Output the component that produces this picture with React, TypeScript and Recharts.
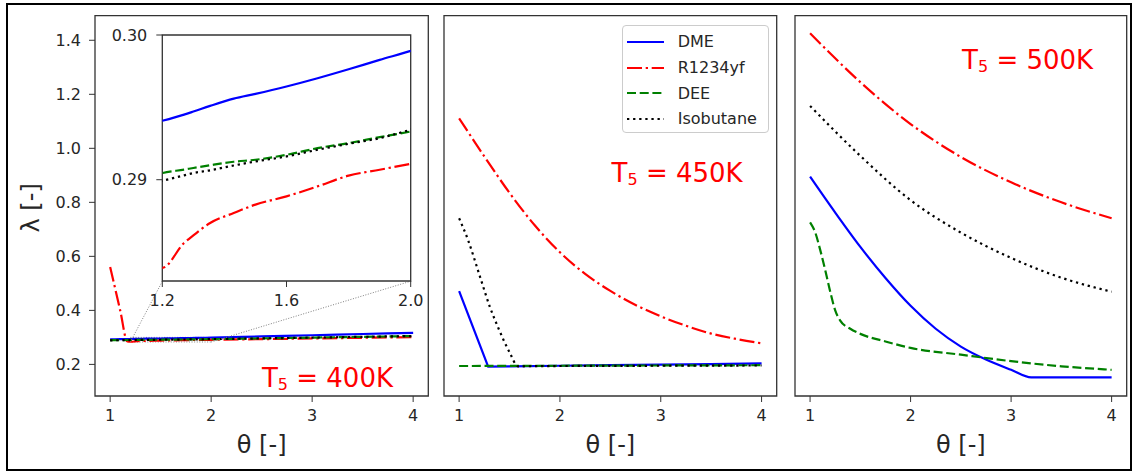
import React from 'react';
import { LineChart, Line, XAxis, YAxis, ReferenceArea, ReferenceLine, ReferenceDot, Legend } from 'recharts';

const W = 1135;
const H = 472;
const FONT = '"DejaVu Sans", Verdana, sans-serif';
const INK = '#262626';

const SERIES = ['DME', 'R1234yf', 'DEE', 'Isobutane'];
const COLORS = ['#0000ff', '#ff0000', '#008000', '#000000'];
const DASHES = ['', '15 3.7 2.3 3.7', '9 3.7', '2.3 3.8'];

const xTicks = [1, 2, 3, 4];
const yTicks = [0.2, 0.4, 0.6, 0.8, 1.0, 1.2, 1.4];
const insetXTicks = [1.2, 1.6, 2.0];
const insetYTicks = [0.29, 0.3];
const xDomain = [0.85, 4.15];
const yDomain = [0.083, 1.491];
const insetXDomain = [1.2, 2.0];
const insetYDomain = [0.283, 0.3];
const tempLabels = ['400K', '450K', '500K'];

// ---- T5 = 400K ----
const theta400 = [1.0, 1.1, 1.17, 1.2, 1.27, 1.3, 1.354, 1.43, 1.5, 1.6, 1.7, 1.8, 1.9, 2.0, 2.5, 3.0, 3.5, 4.0];
const dme400 = [0.2928, 0.2934, 0.2939, 0.29407, 0.2945, 0.29471, 0.2951, 0.2956, 0.29593, 0.29644, 0.29701, 0.29763, 0.29828, 0.2989, 0.3035, 0.308, 0.3125, 0.317];
const r1234yf400 = [0.561, 0.399, 0.285, 0.28391, 0.28563, 0.28615, 0.28701, 0.2877, 0.28828, 0.28885, 0.28954, 0.29028, 0.29069, 0.2911, 0.2935, 0.296, 0.2985, 0.301];
const dee400 = [0.2897, 0.2901, 0.2903, 0.29046, 0.2907, 0.29081, 0.291, 0.29124, 0.29138, 0.29172, 0.29218, 0.29253, 0.29294, 0.29333, 0.2963, 0.2992, 0.302, 0.305];
const iso400 = [0.2891, 0.2895, 0.2898, 0.28993, 0.2903, 0.29046, 0.29065, 0.29098, 0.29126, 0.29161, 0.29207, 0.29248, 0.29287, 0.29345, 0.2962, 0.2991, 0.3021, 0.3051];

// ---- T5 = 450K ----
const thetaDme450 = [1.0, 1.288, 1.5, 2.0, 2.5, 3.0, 3.5, 4.0];
const dme450 = [0.471, 0.192, 0.193, 0.195, 0.197, 0.199, 0.201, 0.204];
const thetaR450 = [1.0, 1.25, 1.5, 1.75, 2.0, 2.25, 2.5, 2.75, 3.0, 3.25, 3.5, 3.75, 4.0];
const r1234yf450 = [1.111, 0.97, 0.835, 0.715, 0.615, 0.535, 0.472, 0.42, 0.378, 0.343, 0.314, 0.294, 0.278];
const thetaDee450 = [1.0, 2.0, 3.0, 4.0];
const dee450 = [0.194, 0.195, 0.196, 0.197];
const thetaIso450 = [1.0, 1.089, 1.2, 1.305, 1.4, 1.5, 1.585, 2.0, 3.0, 4.0];
const iso450 = [0.741, 0.66, 0.533, 0.413, 0.325, 0.245, 0.193, 0.194, 0.195, 0.196];

// ---- T5 = 500K ----
const thetaDme500 = [1.0, 1.25, 1.5, 1.75, 2.0, 2.25, 2.5, 2.75, 3.0, 3.2, 4.0];
const dme500 = [0.895, 0.762, 0.635, 0.52, 0.417, 0.332, 0.266, 0.218, 0.18, 0.152, 0.152];
const thetaR500 = [1.0, 1.5, 2.0, 2.5, 3.0, 3.5, 4.0];
const r1234yf500 = [1.426, 1.245, 1.09, 0.968, 0.874, 0.8, 0.741];
const thetaDee500 = [1.0, 1.05, 1.1, 1.15, 1.2, 1.25, 1.3, 1.4, 1.5, 1.75, 2.0, 2.5, 3.0, 3.5, 4.0];
const dee500 = [0.726, 0.69, 0.625, 0.55, 0.47, 0.4, 0.362, 0.332, 0.313, 0.285, 0.261, 0.236, 0.212, 0.193, 0.18];
const thetaIso500 = [1.0, 1.5, 2.0, 2.5, 3.0, 3.5, 4.0];
const iso500 = [1.157, 0.972, 0.808, 0.688, 0.594, 0.521, 0.469];

const pts = (t: number[], v: number[]) => t.map((x, i) => ({ x, y: v[i] }));

const panels = [
  {
    lines: [pts(theta400, dme400), pts(theta400, r1234yf400), pts(theta400, dee400), pts(theta400, iso400)],
    types: ['monotone', 'monotone', 'monotone', 'monotone'],
    label: tempLabels[0],
    textAt: { x: 2.503, y: 0.117 },
    plotLeft: 95,
    plotRight: 428.3,
    yAxisWidth: 60,
    showYLabels: true,
  },
  {
    lines: [pts(thetaDme450, dme450), pts(thetaR450, r1234yf450), pts(thetaDee450, dee450), pts(thetaIso450, iso450)],
    types: ['linear', 'monotone', 'linear', 'monotone'],
    label: tempLabels[1],
    textAt: { x: 2.512, y: 0.877 },
    plotLeft: 444,
    plotRight: 776.7,
    yAxisWidth: 10,
    showYLabels: false,
  },
  {
    lines: [pts(thetaDme500, dme500), pts(thetaR500, r1234yf500), pts(thetaDee500, dee500), pts(thetaIso500, iso500)],
    types: ['monotone', 'monotone', 'monotone', 'monotone'],
    label: tempLabels[2],
    textAt: { x: 2.512, y: 1.294 },
    plotLeft: 795,
    plotRight: 1126.7,
    yAxisWidth: 10,
    showYLabels: false,
  },
];

const tickStyle = { fontSize: 16, fontFamily: FONT, fill: INK };

const tempShape = (text: string) => (p: any) => (
  <text x={p.cx} y={p.cy} fill="#ff0000" fontFamily={FONT} fontSize={26} style={{ whiteSpace: 'pre' }}>
    <tspan>T</tspan>
    <tspan fontSize={16} dy={3}>5</tspan>
    <tspan dy={-3}>{' = ' + text}</tspan>
  </text>
);

const xLabel = {
  content: (p: any) => {
    const vb = p.viewBox;
    return (
      <text x={vb.x + vb.width / 2} y={vb.y + 57} textAnchor="middle" fontSize={24} fontFamily={FONT} fill={INK}>
        θ [-]
      </text>
    );
  },
};

const yLabel = {
  content: (p: any) => {
    const vb = p.viewBox;
    const cx = vb.x - 4;
    const cy = vb.y + vb.height / 2 + 2;
    return (
      <text x={cx} y={cy} transform={`rotate(-90 ${cx} ${cy})`} textAnchor="middle" dominantBaseline="central" fontSize={24} fontFamily={FONT} fill={INK}>
        λ [-]
      </text>
    );
  },
};

const renderLegend = () => (
  <div
    style={{
      boxSizing: 'border-box',
      width: 147,
      height: 108,
      border: '1px solid #cccccc',
      borderRadius: 4,
      background: 'rgba(255,255,255,0.8)',
      paddingTop: 3,
      fontFamily: FONT,
      fontSize: 16,
      color: INK,
    }}
  >
    {SERIES.map((name, i) => (
      <div key={name} style={{ display: 'flex', alignItems: 'center', height: 25.7 }}>
        <svg width={37} height={10} style={{ marginLeft: 4, marginRight: 14 }}>
          <line x1={0} y1={5} x2={37} y2={5} stroke={COLORS[i]} strokeWidth={2.2} strokeDasharray={DASHES[i] || undefined} />
        </svg>
        <span>{name}</span>
      </div>
    ))}
  </div>
);

function Panel({ cfg, index }: { cfg: (typeof panels)[number]; index: number }) {
  return (
    <div style={{ position: 'absolute', left: 0, top: 0 }}>
      <LineChart
        width={W}
        height={H}
        margin={{ top: 15.7, bottom: 16, left: cfg.plotLeft - cfg.yAxisWidth, right: W - cfg.plotRight }}
      >
        <XAxis
          dataKey="x"
          type="number"
          domain={xDomain}
          ticks={xTicks}
          interval={0}
          height={60}
          tickSize={6}
          tickMargin={8}
          tick={tickStyle}
          axisLine={false}
          tickLine={{ stroke: '#333' }}
          label={xLabel}
        />
        <YAxis
          type="number"
          dataKey="y"
          domain={yDomain}
          ticks={yTicks}
          interval={0}
          width={cfg.yAxisWidth}
          tickSize={6}
          tickMargin={8}
          tick={cfg.showYLabels ? tickStyle : false}
          tickFormatter={(v: number) => v.toFixed(1)}
          axisLine={false}
          tickLine={{ stroke: '#333' }}
          label={cfg.showYLabels ? yLabel : undefined}
        />
        <ReferenceArea x1={xDomain[0]} x2={xDomain[1]} y1={yDomain[0]} y2={yDomain[1]} fill="none" stroke="#333" strokeWidth={1.3} />
        {index === 0 && (
          <ReferenceArea
            x1={insetXDomain[0]}
            x2={insetXDomain[1]}
            y1={insetYDomain[0]}
            y2={insetYDomain[1]}
            fill="none"
            stroke="#808080"
            strokeWidth={1}
            strokeDasharray="1 1.6"
          />
        )}
        {cfg.lines.map((d, i) => (
          <Line
            key={SERIES[i]}
            data={d}
            dataKey="y"
            name={SERIES[i]}
            type={cfg.types[i] as any}
            stroke={COLORS[i]}
            strokeWidth={2.2}
            strokeDasharray={DASHES[i] || undefined}
            dot={false}
            activeDot={false}
            isAnimationActive={false}
          />
        ))}
        {index === 0 && (
          <ReferenceLine
            segment={[
              { x: insetXDomain[0], y: insetYDomain[0] },
              { x: 1.518, y: 0.5085 },
            ]}
            stroke="#808080"
            strokeWidth={1}
            strokeDasharray="1 1.6"
          />
        )}
        {index === 0 && (
          <ReferenceLine
            segment={[
              { x: insetXDomain[1], y: insetYDomain[0] },
              { x: 3.98, y: 0.5085 },
            ]}
            stroke="#808080"
            strokeWidth={1}
            strokeDasharray="1 1.6"
          />
        )}
        <ReferenceDot x={cfg.textAt.x} y={cfg.textAt.y} r={0} shape={tempShape(cfg.label)} />
        {index === 1 && (
          <Legend
            layout="vertical"
            align="center"
            verticalAlign="middle"
            content={renderLegend}
            wrapperStyle={{ left: 621.7, top: 25, width: 147, height: 108 }}
          />
        )}
      </LineChart>
    </div>
  );
}

function Inset() {
  const lines = panels[0].lines;
  return (
    <div style={{ position: 'absolute', left: 0, top: 0 }}>
      <LineChart width={W} height={H} margin={{ top: 35, bottom: 161, left: 112.3, right: W - 410.7 }}>
        <XAxis
          dataKey="x"
          type="number"
          domain={insetXDomain}
          allowDataOverflow
          ticks={insetXTicks}
          interval={0}
          height={30}
          tickSize={6}
          tickMargin={8}
          tick={tickStyle}
          tickFormatter={(v: number) => v.toFixed(1)}
          axisLine={false}
          tickLine={{ stroke: '#333' }}
        />
        <YAxis
          type="number"
          dataKey="y"
          domain={insetYDomain}
          allowDataOverflow
          ticks={insetYTicks}
          interval={0}
          width={50}
          tickSize={6}
          tickMargin={9}
          tick={tickStyle}
          tickFormatter={(v: number) => v.toFixed(2)}
          axisLine={false}
          tickLine={{ stroke: '#333' }}
        />
        <ReferenceArea
          x1={insetXDomain[0]}
          x2={insetXDomain[1]}
          y1={insetYDomain[0]}
          y2={insetYDomain[1]}
          fill="#ffffff"
          fillOpacity={1}
          stroke="#333"
          strokeWidth={1.3}
        />
        {lines.map((d, i) => (
          <Line
            key={SERIES[i]}
            data={d}
            dataKey="y"
            name={SERIES[i]}
            type="monotone"
            stroke={COLORS[i]}
            strokeWidth={2.2}
            strokeDasharray={DASHES[i] || undefined}
            dot={false}
            activeDot={false}
            isAnimationActive={false}
          />
        ))}
      </LineChart>
    </div>
  );
}

export default function App() {
  return (
    <div style={{ position: 'fixed', left: 0, top: 0, width: W, height: H, background: '#ffffff', overflow: 'hidden' }}>
      <div
        style={{
          position: 'absolute',
          left: 6,
          top: 3,
          width: 1126,
          height: 468,
          border: '2.5px solid #000',
          boxSizing: 'border-box',
        }}
      />
      <Panel cfg={panels[0]} index={0} />
      <Inset />
      <Panel cfg={panels[1]} index={1} />
      <Panel cfg={panels[2]} index={2} />
    </div>
  );
}
